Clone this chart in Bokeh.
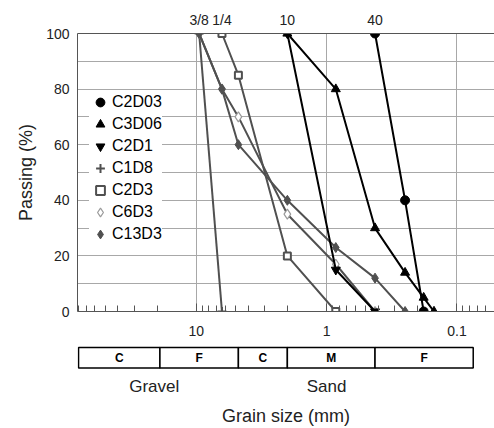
from bokeh.plotting import figure
from bokeh.layouts import column
from bokeh.models import (Range1d, FixedTicker, SingleIntervalTicker, LogAxis,
                          Legend, LegendItem, ColumnDataSource)
from bokeh.embed import file_html
from bokeh.resources import INLINE
from bokeh.core.properties import value

FONT = "Liberation Sans"

# Sieve designations shown along the top and their openings (mm)
sieve_names = ["3/8", "1/4", "10", "40"]
sieve_mm = [9.5, 6.35, 2.0, 0.425]

# Gradation curves: sieve opening (mm) vs. percent passing
c2d03_mm = [0.425, 0.25, 0.18]
c2d03_pass = [100, 40, 0]
c3d06_mm = [2.0, 0.85, 0.425, 0.25, 0.18, 0.15]
c3d06_pass = [100, 80, 30, 14, 5, 0]
c2d1_mm = [2.0, 0.85, 0.425]
c2d1_pass = [100, 15, 0]
c1d8_mm = [9.5, 6.35]
c1d8_pass = [100, 0]
c2d3_mm = [6.35, 4.75, 2.0, 0.85]
c2d3_pass = [100, 85, 20, 0]
c6d3_mm = [9.5, 6.35, 4.75, 2.0, 0.85, 0.425]
c6d3_pass = [100, 80, 70, 35, 17, 0]
c13d3_mm = [9.5, 6.35, 4.75, 2.0, 0.85, 0.425, 0.25]
c13d3_pass = [100, 80, 60, 40, 23, 12, 0]

# Bottom axis decades
x_major = [10, 1, 0.1]

# Soil classification bands (mm): gravel C/F, sand C/M/F
class_bounds = [80, 19, 4.75, 2.0, 0.425, 0.075]
class_labels = ["C", "F", "C", "M", "F"]
group_labels = ["Gravel", "Sand"]
group_mm = [21, 1.0]

GRAY = "#505050"
series = [
    ("C1D8", c1d8_mm, c1d8_pass, "cross", GRAY, GRAY, 2.0, 9),
    ("C2D3", c2d3_mm, c2d3_pass, "square", GRAY, "white", 2.0, 7),
    ("C6D3", c6d3_mm, c6d3_pass, "diamond", "#9a9a9a", "white", 1.2, 10),
    ("C13D3", c13d3_mm, c13d3_pass, "diamond", GRAY, GRAY, 1.0, 10),
    ("C2D1", c2d1_mm, c2d1_pass, "inverted_triangle", "black", "black", 1.0, 9),
    ("C3D06", c3d06_mm, c3d06_pass, "triangle", "black", "black", 1.0, 9),
    ("C2D03", c2d03_mm, c2d03_pass, "circle", "black", "black", 1.0, 9),
]
legend_order = ["C2D03", "C3D06", "C2D1", "C1D8", "C2D3", "C6D3", "C13D3"]

x_range = Range1d(81.5, 0.0515)

p = figure(width=494, height=341, x_axis_type="log", x_range=x_range,
           y_range=Range1d(0, 100), output_backend="svg", toolbar_location=None,
           min_border_left=77, min_border_right=0, min_border_top=33,
           min_border_bottom=30)
p.outline_line_color = None
p.background_fill_color = "white"
p.border_fill_color = "white"

# grid
p.ygrid.ticker = SingleIntervalTicker(interval=10)
p.ygrid.grid_line_color = "#a8a8a8"
p.xgrid.ticker = FixedTicker(ticks=x_major)
p.xgrid.grid_line_color = "#a8a8a8"

# bottom axis: decades with minor ticks pointing inward
minor = [m * d for d in [0.01, 0.1, 1, 10] for m in range(2, 10)]
xa = p.xaxis[0]
xa.ticker = FixedTicker(ticks=x_major, minor_ticks=minor)
xa.major_label_overrides = {10: "10", 1: "1", 0.1: "0.1"}
xa.major_tick_in = 8
xa.major_tick_out = 0
xa.minor_tick_in = 6
xa.minor_tick_out = 0
xa.major_label_standoff = 14
xa.axis_line_color = "#555555"
xa.major_tick_line_color = "#555555"
xa.minor_tick_line_color = "#555555"
xa.major_label_text_font = FONT
xa.major_label_text_font_size = "14px"
xa.major_label_text_color = "#222222"

# left axis
ya = p.yaxis[0]
ya.ticker = SingleIntervalTicker(interval=20)
ya.minor_tick_line_color = None
ya.major_tick_out = 0
ya.major_tick_in = 0
ya.major_label_standoff = 4
ya.axis_line_color = "#555555"
ya.major_label_text_font = FONT
ya.major_label_text_font_size = "14px"
ya.major_label_text_color = "#222222"
ya.axis_label = "Passing (%)"
ya.axis_label_text_font = FONT
ya.axis_label_text_font_size = "18px"
ya.axis_label_text_font_style = "normal"
ya.axis_label_text_color = "#222222"
ya.axis_label_standoff = 7

# top axis: sieve numbers
top = LogAxis(ticker=FixedTicker(ticks=sieve_mm),
              major_label_overrides=dict(zip(sieve_mm, sieve_names)),
              major_tick_in=0, major_tick_out=0,
              minor_tick_in=0, minor_tick_out=0,
              major_label_standoff=6, axis_line_color="#555555",
              major_label_text_font=FONT, major_label_text_font_size="14px",
              major_label_text_color="#222222")
p.add_layout(top, "above")

# curves
markers = {}
for name, xs, ys, marker, lc, fc, lw, size in series:
    line_color = "black" if lc == "black" else GRAY
    src = ColumnDataSource(dict(mm=xs, passing=ys))
    p.line("mm", "passing", source=src, line_color=line_color, line_width=2)
    markers[name] = p.scatter("mm", "passing", source=src, marker=marker,
                              size=size, line_color=lc, fill_color=fc,
                              line_width=lw)

legend = Legend(items=[LegendItem(label=n, renderers=[markers[n]]) for n in legend_order],
                location=(12, 66), glyph_width=22, glyph_height=22,
                label_height=19, spacing=-3, padding=2, margin=0,
                label_standoff=1, border_line_color=None,
                background_fill_color="white", background_fill_alpha=1.0,
                label_text_font=FONT, label_text_font_size="16px",
                label_text_color="black")
p.add_layout(legend)

# classification band strip, with Gravel / Sand group names on its axis
q = figure(width=494, height=87, x_axis_type="log", x_range=x_range,
           y_range=Range1d(0, 35), x_axis_location=None, y_axis_location=None,
           output_backend="svg", toolbar_location=None,
           min_border_left=77, min_border_right=0, min_border_top=0,
           min_border_bottom=52)
q.outline_line_color = None
q.xgrid.visible = False
q.ygrid.visible = False

lefts = class_bounds[:-1]
rights = class_bounds[1:]
centers = [(a * b) ** 0.5 for a, b in zip(lefts, rights)]
q.quad(left=lefts, right=rights, bottom=4, top=28, fill_color="white",
       line_color="black", line_width=1.5)
q.text(x=centers, y=[16] * len(centers), text=class_labels,
       text_font=value(FONT), text_font_size="12px", text_font_style="bold",
       text_align="center", text_baseline="middle", text_color="black")

bottom = LogAxis(ticker=FixedTicker(ticks=group_mm),
                 major_label_overrides=dict(zip(group_mm, group_labels)),
                 axis_label="Grain size (mm)",
                 axis_line_color=None, major_tick_out=0, major_tick_in=0,
                 minor_tick_out=0, minor_tick_in=0, major_label_standoff=5,
                 major_label_text_font=FONT, major_label_text_font_size="17px",
                 major_label_text_color="#222222",
                 axis_label_standoff=7, axis_label_text_font=FONT,
                 axis_label_text_font_size="18px",
                 axis_label_text_font_style="normal",
                 axis_label_text_color="#222222")
q.add_layout(bottom, "below")

layout = column(p, q, spacing=0)
open("out.html", "w").write(file_html(layout, INLINE))
